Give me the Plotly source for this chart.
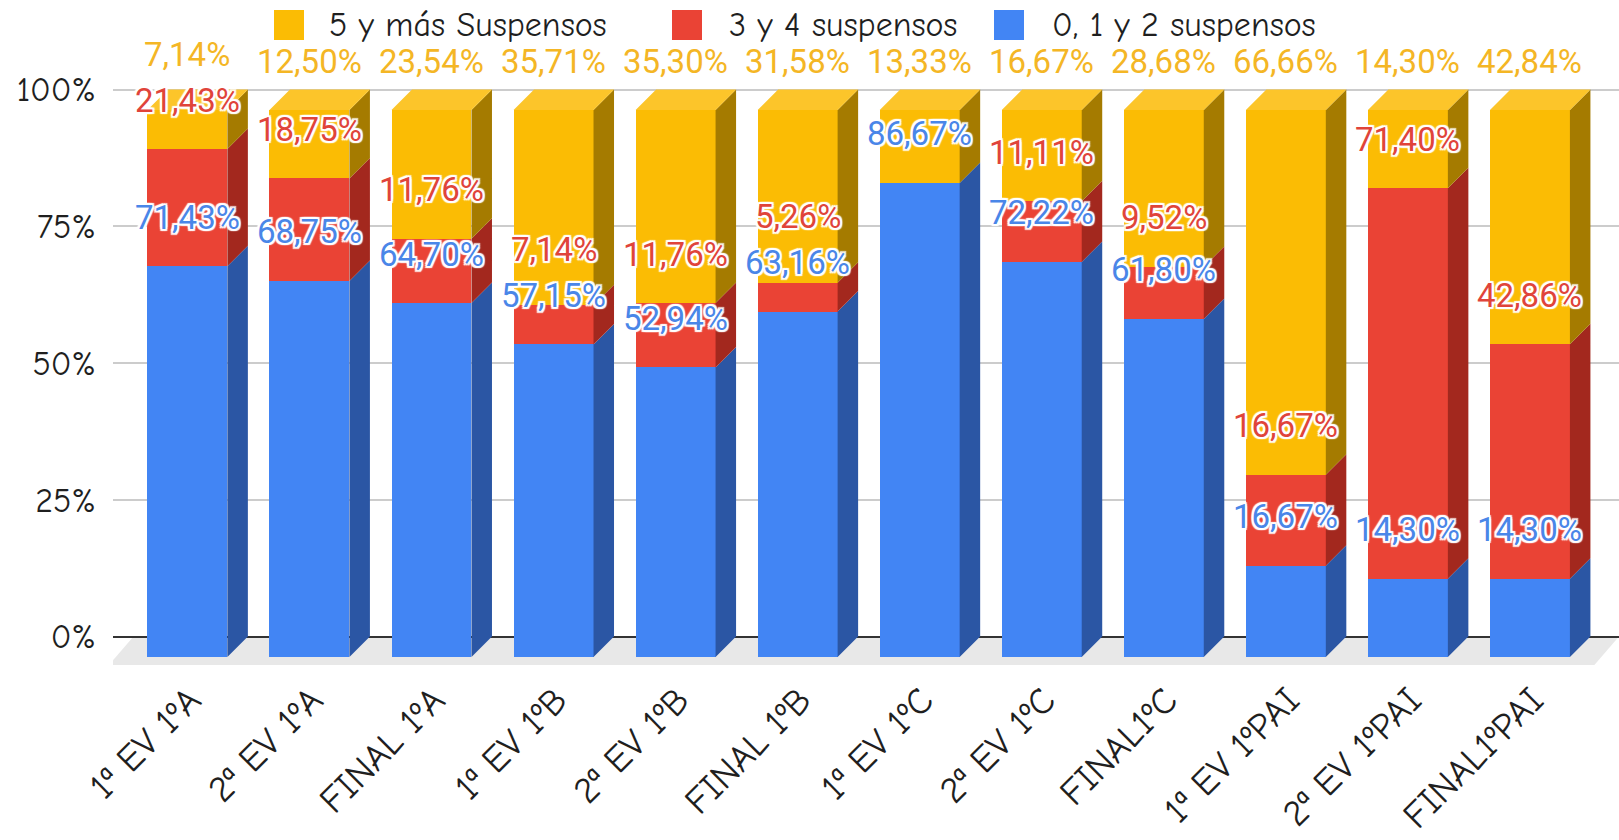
"""Pseudo-3D stacked percentage bars: suspensos por evaluación y grupo."""

import plotly.graph_objects as go

# ── Data ─────────────────────────────────────────────────────────────────────

CATEGORIES = [
    "1ª EV 1ºA", "2ª EV 1ºA", "FINAL 1ºA",
    "1ª EV 1ºB", "2ª EV 1ºB", "FINAL 1ºB",
    "1ª EV 1ºC", "2ª EV 1ºC", "FINAL1ºC",
    "1ª EV 1ºPAI", "2ª EV 1ºPAI", "FINAL1ºPAI",
]
PCT_0_2 = [71.43, 68.75, 64.70, 57.15, 52.94, 63.16, 86.67, 72.22, 61.80, 16.67, 14.30, 14.30]
PCT_3_4 = [21.43, 18.75, 11.76, 7.14, 11.76, 5.26, 0.0, 11.11, 9.52, 16.67, 71.40, 42.86]
PCT_5_MAS = [7.14, 12.50, 23.54, 35.71, 35.30, 31.58, 13.33, 16.67, 28.68, 66.66, 14.30, 42.84]

SERIES_NAMES = ["0, 1 y 2 suspensos", "3 y 4 suspensos", "5 y más Suspensos"]
Y_TICKS = [0, 25, 50, 75, 100]

# ── Style / geometry ─────────────────────────────────────────────────────────

FRONT = ["#4285F4", "#EA4335", "#FBBC04"]
SIDE = ["#2B56A4", "#A3281E", "#A57B00"]
TOP = "#FCC52A"
LABEL_COLORS = ["#4A86E8", "#E0443A", "#F4B625"]

W, H = 1619, 840
ML, MR, MT, MB = 113, 0, 70, 170
PX_PER_PCT = 5.47
PX_PER_CAT = 122.05
FIRST_CENTER_PX = 187.4
FRONT_ZERO_PX = 657
DEPTH_PX = 20.5
BAR_W = 0.655
LABEL_GAP_PX = 46  # minimum vertical distance between labels of one bar

AXIS_FONT = "Comic Sans MS, Comic Neue, Open Sans, sans-serif"
LABEL_FONT = "Roboto, Arial, sans-serif"

plot_top, plot_bot = MT, H - MB
back_zero_px = FRONT_ZERO_PX - DEPTH_PX
front_yrange = [(FRONT_ZERO_PX - plot_bot) / PX_PER_PCT, (FRONT_ZERO_PX - plot_top) / PX_PER_PCT]
back_yrange = [(back_zero_px - plot_bot) / PX_PER_PCT, (back_zero_px - plot_top) / PX_PER_PCT]
front_xrange = [(ML - FIRST_CENTER_PX) / PX_PER_CAT, (W - MR - FIRST_CENTER_PX) / PX_PER_CAT]
dx = DEPTH_PX / PX_PER_CAT
dy = DEPTH_PX / PX_PER_PCT
back_xrange = [front_xrange[0] - dx, front_xrange[1] - dx]

xs = list(range(len(CATEGORIES)))
series = [PCT_0_2, PCT_3_4, PCT_5_MAS]

fig = go.Figure()

# front faces
for vals, name, col in zip(series, SERIES_NAMES, FRONT):
    fig.add_trace(go.Bar(
        x=xs, y=vals, name=name, width=BAR_W, marker_color=col,
        marker_line_width=0, xaxis="x2", yaxis="y2", showlegend=False,
        hoverinfo="skip",
    ))

# side faces, one polygon per segment
base = [0.0] * len(xs)
for vals, col in zip(series, SIDE):
    px_, py_ = [], []
    for i, v in enumerate(vals):
        if v <= 0:
            continue
        xr = xs[i] + BAR_W / 2
        y0, y1 = base[i], base[i] + v
        px_ += [xr, xr + dx, xr + dx, xr, xr, None]
        py_ += [y0, y0 + dy, y1 + dy, y1, y0, None]
    fig.add_trace(go.Scatter(
        x=px_, y=py_, mode="lines", fill="toself", fillcolor=col,
        line=dict(width=0), xaxis="x2", yaxis="y2", showlegend=False, hoverinfo="skip",
    ))
    base = [b + v for b, v in zip(base, vals)]

# top faces
tx, ty = [], []
for i, tot in enumerate(base):
    xl, xr = xs[i] - BAR_W / 2, xs[i] + BAR_W / 2
    tx += [xl, xr, xr + dx, xl + dx, xl, None]
    ty += [tot, tot, tot + dy, tot + dy, tot, None]
fig.add_trace(go.Scatter(
    x=tx, y=ty, mode="lines", fill="toself", fillcolor=TOP,
    line=dict(width=0), xaxis="x2", yaxis="y2", showlegend=False, hoverinfo="skip",
))

# data labels, pushed up when they would collide with the label below
halo = ", ".join(f"white {a}px {b}px 1px" for a in (-2, 0, 2) for b in (-2, 0, 2) if a or b)
gap_pct = LABEL_GAP_PX / PX_PER_PCT
annotations = []
cum = [0.0] * len(xs)
last_pos = [None] * len(xs)
for k, (vals, col) in enumerate(zip(series, LABEL_COLORS)):
    for i, v in enumerate(vals):
        cum[i] += v
        if v <= 0:
            continue
        pos = cum[i]
        if last_pos[i] is not None and pos - last_pos[i] < gap_pct:
            pos = last_pos[i] + gap_pct
        last_pos[i] = pos
        annotations.append(dict(
            x=xs[i], y=pos, xref="x2", yref="y2", yshift=49,
            text=f"{v:.2f}%".replace(".", ","), showarrow=False,
            font=dict(family=LABEL_FONT, size=33, color=col,
                      shadow="none" if k == 2 else halo),
        ))

# custom legend (large squares), in the reference order
pw, ph = W - ML - MR, plot_bot - plot_top
legend_items = [(2, 289, 328), (1, 687, 728), (0, 1009, 1051)]
LEG_Y = 25
shapes = []
for k, sq_px, txt_px in legend_items:
    shapes.append(dict(
        type="rect", xref="paper", yref="paper",
        x0=(sq_px - 15 - ML) / pw, x1=(sq_px + 15 - ML) / pw,
        y0=(plot_bot - LEG_Y - 15) / ph, y1=(plot_bot - LEG_Y + 15) / ph,
        fillcolor=FRONT[k], line=dict(width=0), layer="above",
    ))
    annotations.append(dict(
        x=(txt_px - ML) / pw, y=(plot_bot - LEG_Y) / ph,
        xref="paper", yref="paper", xanchor="left", yanchor="middle",
        text=SERIES_NAMES[k], showarrow=False, borderpad=0,
        font=dict(family=AXIS_FONT, size=34, color="#1f1f1f"),
    ))

# floor
floor_y = -(665 - back_zero_px) / PX_PER_PCT
shapes.append(dict(
    type="path", xref="x", yref="y", layer="below",
    path=(f"M {back_xrange[0] - dx * 0.2},{floor_y} L {back_xrange[1] - dx * 1.2},{floor_y} "
          f"L {back_xrange[1]},0 L {back_xrange[0] + dx},0 Z"),
    fillcolor="#E8E8E8", line=dict(width=0),
))

fig.update_layout(
    width=W, height=H,
    margin=dict(l=ML, r=MR, t=MT, b=MB, autoexpand=False),
    paper_bgcolor="white", plot_bgcolor="white",
    barmode="stack", bargap=0,
    showlegend=False,
    xaxis=dict(
        range=back_xrange, tickvals=xs, ticktext=CATEGORIES, tickangle=-45,
        showgrid=False, zeroline=False, showline=False, ticks="",
        tickfont=dict(family=AXIS_FONT, size=37, color="#1f1f1f"),
        ticklabelstandoff=0, ticklabelshift=-18, automargin=False,
    ),
    yaxis=dict(
        range=back_yrange, tickvals=Y_TICKS, ticktext=[f"{t}%" for t in Y_TICKS],
        showgrid=True, gridcolor="#CCCCCC", gridwidth=2,
        zeroline=True, zerolinecolor="#333333", zerolinewidth=2,
        showline=False, ticks="", ticklabelstandoff=16, automargin=False,
        tickfont=dict(family=AXIS_FONT, size=34, color="#1f1f1f"),
    ),
    xaxis2=dict(
        range=front_xrange, overlaying="x", anchor="y2",
        showgrid=False, zeroline=False, showticklabels=False, ticks="",
    ),
    yaxis2=dict(
        range=front_yrange, overlaying="y", anchor="x2", side="left",
        showgrid=False, zeroline=False, showticklabels=False, ticks="",
    ),
    shapes=shapes,
    annotations=annotations,
)

fig.write_html(
    "out.html",
    config={"displayModeBar": False},
    post_script="document.body.style.margin = '0';",
)
